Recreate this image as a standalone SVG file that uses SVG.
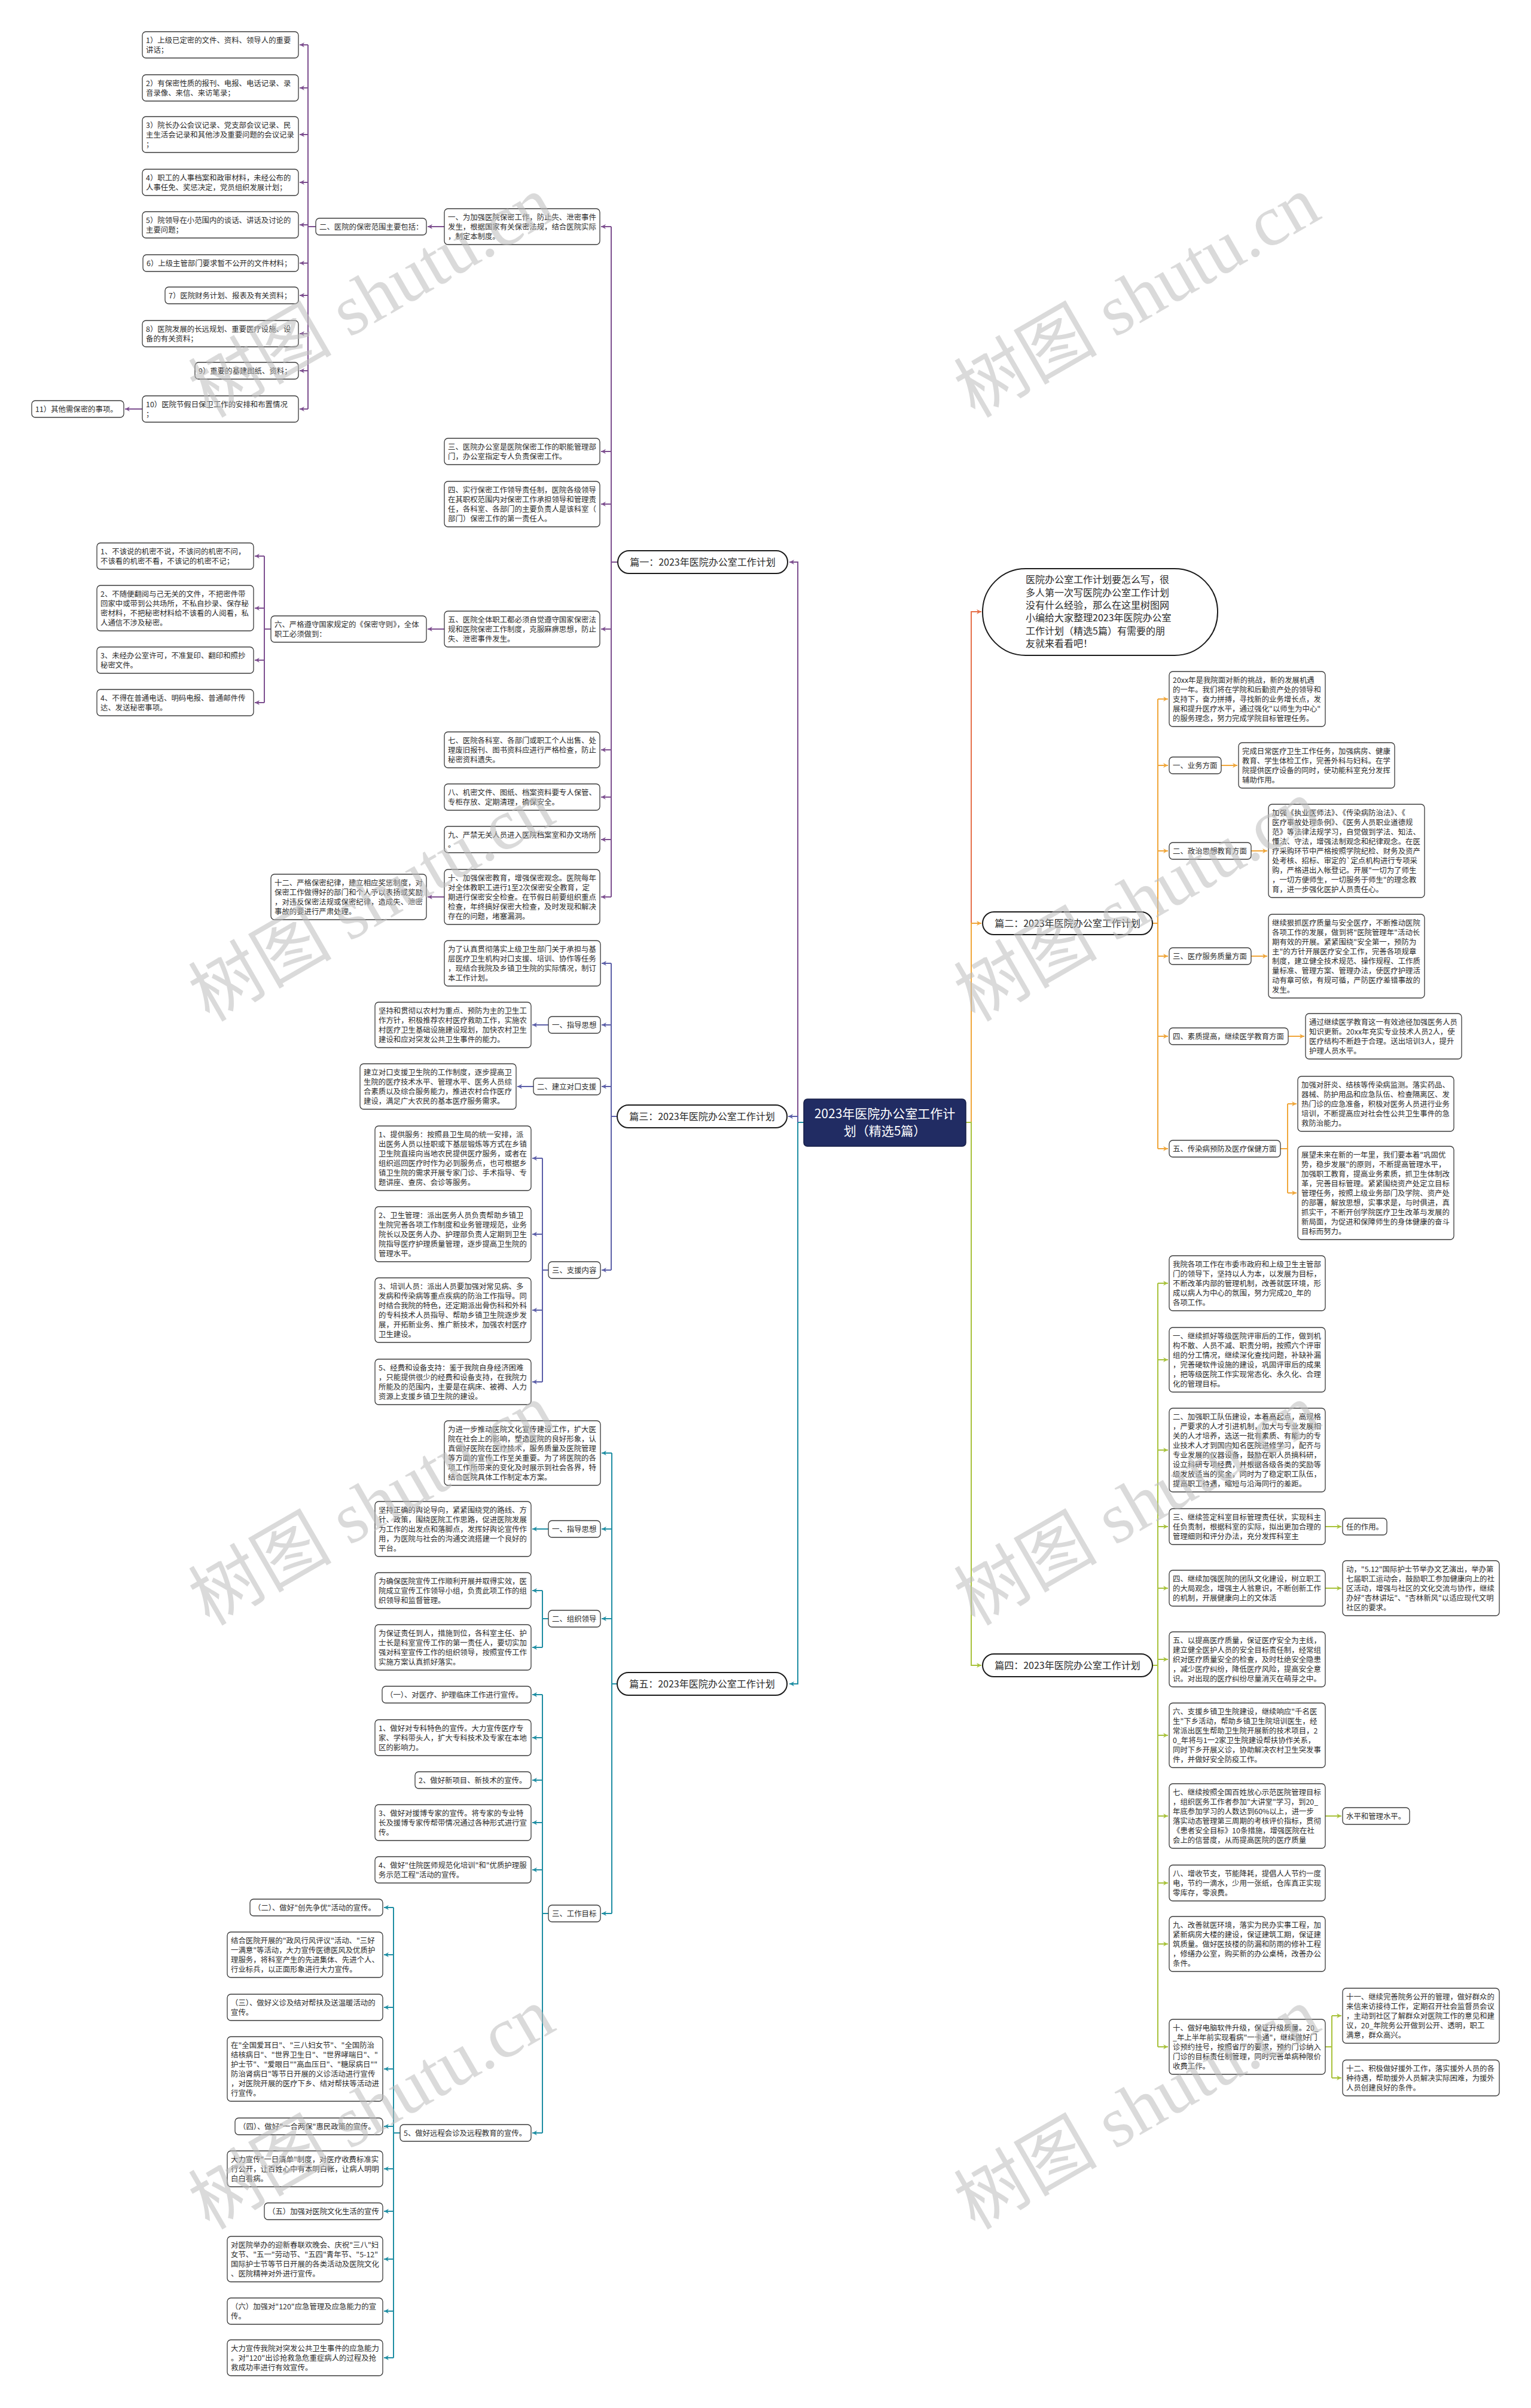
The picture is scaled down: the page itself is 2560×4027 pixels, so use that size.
<svg xmlns="http://www.w3.org/2000/svg" width="2560" height="4027" viewBox="0 0 2560 4027">
<style>
.n rect{fill:#fff;stroke:#3a3a3a;stroke-width:1.3}
.n text,.p text,.b text{font-family:"Noto Sans CJK SC","Noto Sans",sans-serif;fill:#2b2b2b}
.n text{font-size:12.4px}
.p rect,.b rect{fill:#fff;stroke:#1a1a1a;stroke-width:2}
.p text{font-size:16px;text-anchor:middle}
.b text{font-size:16px}
.c path{fill:none;stroke-width:2}
.pu{stroke:#7d4f8f}.or{stroke:#f0a63a}.in{stroke:#5c5fa8}.gr{stroke:#a8c23c}.te{stroke:#1f8ea3}.re{stroke:#e6704a}
.wm{font-family:"Liberation Serif","Noto Sans CJK SC",serif;font-size:120px;fill:#bdbdbd;opacity:.55}
</style>
<defs>
<marker id="aPu" viewBox="0 0 10 10" refX="10" refY="5" markerWidth="8" markerHeight="8" markerUnits="userSpaceOnUse" orient="auto"><path d="M0,0L10,5L0,10L3,5z" fill="#7d4f8f"/></marker>
<marker id="aOr" viewBox="0 0 10 10" refX="10" refY="5" markerWidth="8" markerHeight="8" markerUnits="userSpaceOnUse" orient="auto"><path d="M0,0L10,5L0,10L3,5z" fill="#f0a63a"/></marker>
<marker id="aIn" viewBox="0 0 10 10" refX="10" refY="5" markerWidth="8" markerHeight="8" markerUnits="userSpaceOnUse" orient="auto"><path d="M0,0L10,5L0,10L3,5z" fill="#5c5fa8"/></marker>
<marker id="aGr" viewBox="0 0 10 10" refX="10" refY="5" markerWidth="8" markerHeight="8" markerUnits="userSpaceOnUse" orient="auto"><path d="M0,0L10,5L0,10L3,5z" fill="#a8c23c"/></marker>
<marker id="aTe" viewBox="0 0 10 10" refX="10" refY="5" markerWidth="8" markerHeight="8" markerUnits="userSpaceOnUse" orient="auto"><path d="M0,0L10,5L0,10L3,5z" fill="#1f8ea3"/></marker>
<marker id="aRe" viewBox="0 0 10 10" refX="10" refY="5" markerWidth="8" markerHeight="8" markerUnits="userSpaceOnUse" orient="auto"><path d="M0,0L10,5L0,10L3,5z" fill="#e6704a"/></marker>
</defs>
<rect width="2560" height="4027" fill="#fff"/>

<g id="connectors" class="c">
<!-- center left -->
<path class="te" d="M1344,1877H1334V2816H1320" marker-end="url(#aTe)"/>
<path class="pu" d="M1334,1877V940H1320" marker-end="url(#aPu)"/>
<path class="in" d="M1334,1877V1867H1318" marker-end="url(#aIn)"/>
<!-- center right -->
<path class="re" d="M1615,1877H1624V1023H1641" marker-end="url(#aRe)"/>
<path class="or" d="M1624,1877V1544H1641" marker-end="url(#aOr)"/>
<path class="gr" d="M1615,1877H1624V2785H1641" marker-end="url(#aGr)"/>
<!-- pian 1 -->
<g class="pu" marker-end="url(#aPu)">
<path d="M1033,940H1022M1022,379V1500" marker-end="none"/>
<path d="M1022,379H1005"/><path d="M1022,755H1005"/><path d="M1022,843H1005"/><path d="M1022,1052H1005"/><path d="M1022,1254H1005"/><path d="M1022,1333H1005"/><path d="M1022,1404H1005"/><path d="M1022,1500H1005"/>
<path d="M743,379H715"/>
<path d="M528,379H515M515,75V684" marker-end="none"/>
<path d="M515,75H501"/><path d="M515,147H501"/><path d="M515,225H501"/><path d="M515,305H501"/><path d="M515,376H501"/><path d="M515,440H501"/><path d="M515,494H501"/><path d="M515,558H501"/><path d="M515,620H501"/><path d="M515,684H501"/>
<path d="M238,684H209"/>
<path d="M743,1052H715"/>
<path d="M453,1052H442M442,930V1175" marker-end="none"/>
<path d="M442,930H426"/><path d="M442,1017H426"/><path d="M442,1104H426"/><path d="M442,1175H426"/>
<path d="M743,1500H715"/>
</g>
<!-- pian 2 -->
<g class="or" marker-end="url(#aOr)">
<path d="M1927,1544H1936M1936,1169V1921" marker-end="none"/>
<path d="M1936,1169H1953"/><path d="M1936,1280H1953"/><path d="M1936,1423H1953"/><path d="M1936,1599H1953"/><path d="M1936,1733H1953"/><path d="M1936,1921H1953"/>
<path d="M2042,1280H2069"/><path d="M2092,1423H2119"/><path d="M2092,1599H2119"/><path d="M2154,1733H2181"/>
<path d="M2141,1921H2153M2153,1846V1995" marker-end="none"/>
<path d="M2153,1846H2168"/><path d="M2153,1995H2168"/>
</g>
<!-- pian 3 -->
<g class="in" marker-end="url(#aIn)">
<path d="M1032,1867H1022M1022,1611V2124" marker-end="none"/>
<path d="M1022,1611H1006"/><path d="M1022,1714H1006"/><path d="M1022,1817H1006"/><path d="M1022,2124H1006"/>
<path d="M917,1714H890"/><path d="M892,1817H865"/>
<path d="M917,2124H907M907,1937V2311" marker-end="none"/>
<path d="M907,1937H890"/><path d="M907,2064H890"/><path d="M907,2191H890"/><path d="M907,2311H890"/>
</g>
<!-- pian 4 -->
<g class="gr" marker-end="url(#aGr)">
<path d="M1927,2785H1936M1936,2146V3423" marker-end="none"/>
<path d="M1936,2146H1953"/><path d="M1936,2274H1953"/><path d="M1936,2425H1953"/><path d="M1936,2553H1953"/><path d="M1936,2656H1953"/><path d="M1936,2775H1953"/><path d="M1936,2902H1953"/><path d="M1936,3037H1953"/><path d="M1936,3149H1953"/><path d="M1936,3251H1953"/><path d="M1936,3423H1953"/>
<path d="M2216,2553H2243"/><path d="M2216,2656H2243"/><path d="M2216,3037H2243"/>
<path d="M2216,3423H2227M2227,3371V3475" marker-end="none"/>
<path d="M2227,3371H2243"/><path d="M2227,3475H2243"/>
</g>
<!-- pian 5 -->
<g class="te" marker-end="url(#aTe)">
<path d="M1032,2816H1023M1023,2430V3200" marker-end="none"/>
<path d="M1023,2430H1006"/><path d="M1023,2557H1006"/><path d="M1023,2707H1006"/><path d="M1023,3200H1006"/>
<path d="M917,2557H890"/>
<path d="M917,2707H907M907,2660V2755" marker-end="none"/>
<path d="M907,2660H890"/><path d="M907,2755H890"/>
<path d="M917,3200H907M907,2834V3567" marker-end="none"/>
<path d="M907,2834H890"/><path d="M907,2906H890"/><path d="M907,2977H890"/><path d="M907,3048H890"/><path d="M907,3127H890"/><path d="M907,3567H890"/>
<path d="M669,3567H658M658,3190V3943" marker-end="none"/>
<path d="M658,3190H642"/><path d="M658,3269H642"/><path d="M658,3357H642"/><path d="M658,3460H642"/><path d="M658,3556H642"/><path d="M658,3627H642"/><path d="M658,3698H642"/><path d="M658,3778H642"/><path d="M658,3865H642"/><path d="M658,3943H642"/>
</g>
</g>

<!-- center -->
<g id="root"><rect x="1344" y="1838" width="271" height="79" rx="6" fill="#212c63" stroke="#151d45" stroke-width="1.5"/>
<text font-family="Noto Sans CJK SC,sans-serif" font-size="21px" fill="#fff" text-anchor="middle"><tspan x="1479.5" y="1870">2023年医院办公室工作计</tspan><tspan x="1479.5" y="1899">划（精选5篇）</tspan></text></g>

<g id="intro" class="b"><rect x="1643" y="951" width="393" height="145" rx="72"/>
<text><tspan x="1715" y="975">医院办公室工作计划要怎么写，很</tspan><tspan x="1715" y="996.5">多人第一次写医院办公室工作计划</tspan><tspan x="1715" y="1018">没有什么经验，那么在这里树图网</tspan><tspan x="1715" y="1039">小编给大家整理2023年医院办公室</tspan><tspan x="1715" y="1060.5">工作计划（精选5篇）有需要的朋</tspan><tspan x="1715" y="1082">友就来看看吧！</tspan></text></g>

<g id="p1" class="p"><rect x="1033" y="921" width="284" height="38" rx="19"/><text x="1175" y="946">篇一：2023年医院办公室工作计划</text></g>
<g id="p2" class="p"><rect x="1643" y="1525" width="284" height="38" rx="19"/><text x="1785" y="1550">篇二：2023年医院办公室工作计划</text></g>
<g id="p3" class="p"><rect x="1032" y="1848" width="284" height="38" rx="19"/><text x="1174" y="1873">篇三：2023年医院办公室工作计划</text></g>
<g id="p4" class="p"><rect x="1643" y="2766" width="284" height="38" rx="19"/><text x="1785" y="2791">篇四：2023年医院办公室工作计划</text></g>
<g id="p5" class="p"><rect x="1032" y="2797" width="284" height="38" rx="19"/><text x="1174" y="2822">篇五：2023年医院办公室工作计划</text></g>

<!-- Pian 1 nodes -->
<g id="n1-1" class="n"><rect x="743" y="349" width="260" height="60" rx="6"/><text><tspan x="749" y="367.5">一、为加强医院保密工作，防止失、泄密事件</tspan><tspan x="749" y="383.5">发生，根据国家有关保密法规，结合医院实际</tspan><tspan x="749" y="399.5">，制定本制度。</tspan></text></g>
<g id="n1-2" class="n"><rect x="528" y="365" width="185" height="28" rx="6"/><text><tspan x="534" y="383.5">二、医院的保密范围主要包括：</tspan></text></g>
<g id="n1-2-1" class="n"><rect x="238" y="53" width="261" height="44" rx="6"/><text><tspan x="244" y="71.5">1）上级已定密的文件、资料、领导人的重要</tspan><tspan x="244" y="87.5">讲话；</tspan></text></g>
<g id="n1-2-2" class="n"><rect x="238" y="125" width="261" height="44" rx="6"/><text><tspan x="244" y="143.5">2）有保密性质的报刊、电报、电话记录、录</tspan><tspan x="244" y="159.5">音录像、来信、来访笔录；</tspan></text></g>
<g id="n1-2-3" class="n"><rect x="238" y="195" width="261" height="60" rx="6"/><text><tspan x="244" y="213.5">3）院长办公会议记录、党支部会议记录、民</tspan><tspan x="244" y="229.5">主生活会记录和其他涉及重要问题的会议记录</tspan><tspan x="244" y="245.5">；</tspan></text></g>
<g id="n1-2-4" class="n"><rect x="238" y="283" width="261" height="44" rx="6"/><text><tspan x="244" y="301.5">4）职工的人事档案和政审材料，未经公布的</tspan><tspan x="244" y="317.5">人事任免、奖惩决定，党员组织发展计划；</tspan></text></g>
<g id="n1-2-5" class="n"><rect x="238" y="354" width="261" height="44" rx="6"/><text><tspan x="244" y="372.5">5）院领导在小范围内的谈话、讲话及讨论的</tspan><tspan x="244" y="388.5">主要问题；</tspan></text></g>
<g id="n1-2-6" class="n"><rect x="239" y="426" width="260" height="28" rx="6"/><text><tspan x="245" y="444.5">6）上级主管部门要求暂不公开的文件材料；</tspan></text></g>
<g id="n1-2-7" class="n"><rect x="276" y="480" width="223" height="28" rx="6"/><text><tspan x="282" y="498.5">7）医院财务计划、报表及有关资料；</tspan></text></g>
<g id="n1-2-8" class="n"><rect x="238" y="536" width="261" height="44" rx="6"/><text><tspan x="244" y="554.5">8）医院发展的长远规划、重要医疗设施、设</tspan><tspan x="244" y="570.5">备的有关资料；</tspan></text></g>
<g id="n1-2-9" class="n"><rect x="326" y="606" width="173" height="28" rx="6"/><text><tspan x="332" y="624.5">9）重要的基建图纸、资料；</tspan></text></g>
<g id="n1-2-10" class="n"><rect x="238" y="662" width="261" height="44" rx="6"/><text><tspan x="244" y="680.5">10）医院节假日保卫工作的安排和布置情况</tspan><tspan x="244" y="696.5">；</tspan></text></g>
<g id="n1-2-11" class="n"><rect x="53" y="670" width="154" height="28" rx="6"/><text><tspan x="59" y="688.5">11）其他需保密的事项。</tspan></text></g>
<g id="n1-3" class="n"><rect x="743" y="733" width="260" height="44" rx="6"/><text><tspan x="749" y="751.5">三、医院办公室是医院保密工作的职能管理部</tspan><tspan x="749" y="767.5">门，办公室指定专人负责保密工作。</tspan></text></g>
<g id="n1-4" class="n"><rect x="743" y="805" width="260" height="76" rx="6"/><text><tspan x="749" y="823.5">四、实行保密工作领导责任制，医院各级领导</tspan><tspan x="749" y="839.5">在其职权范围内对保密工作承担领导和管理责</tspan><tspan x="749" y="855.5">任，各科室、各部门的主要负责人是该科室（</tspan><tspan x="749" y="871.5">部门）保密工作的第一责任人。</tspan></text></g>
<g id="n1-5" class="n"><rect x="743" y="1022" width="260" height="60" rx="6"/><text><tspan x="749" y="1040.5">五、医院全体职工都必须自觉遵守国家保密法</tspan><tspan x="749" y="1056.5">规和医院保密工作制度，克服麻痹思想，防止</tspan><tspan x="749" y="1072.5">失、泄密事件发生。</tspan></text></g>
<g id="n1-6" class="n"><rect x="453" y="1030" width="260" height="44" rx="6"/><text><tspan x="459" y="1048.5">六、严格遵守国家规定的《保密守则》，全体</tspan><tspan x="459" y="1064.5">职工必须做到：</tspan></text></g>
<g id="n1-6-1" class="n"><rect x="162" y="908" width="262" height="44" rx="6"/><text><tspan x="168" y="926.5">1、不该说的机密不说，不该问的机密不问，</tspan><tspan x="168" y="942.5">不该看的机密不看，不该记的机密不记；</tspan></text></g>
<g id="n1-6-2" class="n"><rect x="162" y="979" width="262" height="76" rx="6"/><text><tspan x="168" y="997.5">2、不随便翻阅与己无关的文件，不把密件带</tspan><tspan x="168" y="1013.5">回家中或带到公共场所，不私自抄录、保存秘</tspan><tspan x="168" y="1029.5">密材料，不把秘密材料给不该看的人阅看，私</tspan><tspan x="168" y="1045.5">人通信不涉及秘密。</tspan></text></g>
<g id="n1-6-3" class="n"><rect x="162" y="1082" width="262" height="44" rx="6"/><text><tspan x="168" y="1100.5">3、未经办公室许可，不准复印、翻印和照抄</tspan><tspan x="168" y="1116.5">秘密文件。</tspan></text></g>
<g id="n1-6-4" class="n"><rect x="162" y="1153" width="262" height="44" rx="6"/><text><tspan x="168" y="1171.5">4、不得在普通电话、明码电报、普通邮件传</tspan><tspan x="168" y="1187.5">达、发送秘密事项。</tspan></text></g>
<g id="n1-7" class="n"><rect x="743" y="1224" width="260" height="60" rx="6"/><text><tspan x="749" y="1242.5">七、医院各科室、各部门或职工个人出售、处</tspan><tspan x="749" y="1258.5">理废旧报刊、图书资料应进行严格检查，防止</tspan><tspan x="749" y="1274.5">秘密资料遗失。</tspan></text></g>
<g id="n1-8" class="n"><rect x="743" y="1311" width="260" height="44" rx="6"/><text><tspan x="749" y="1329.5">八、机密文件、图纸、档案资料要专人保管、</tspan><tspan x="749" y="1345.5">专柜存放、定期清理，确保安全。</tspan></text></g>
<g id="n1-9" class="n"><rect x="743" y="1382" width="260" height="44" rx="6"/><text><tspan x="749" y="1400.5">九、严禁无关人员进入医院档案室和办文场所</tspan><tspan x="749" y="1416.5">。</tspan></text></g>
<g id="n1-10" class="n"><rect x="743" y="1454" width="260" height="92" rx="6"/><text><tspan x="749" y="1472.5">十、加强保密教育，增强保密观念。医院每年</tspan><tspan x="749" y="1488.5">对全体教职工进行1至2次保密安全教育，定</tspan><tspan x="749" y="1504.5">期进行保密安全检查。在节假日前要组织重点</tspan><tspan x="749" y="1520.5">检查，年终搞好保密大检查，及时发现和解决</tspan><tspan x="749" y="1536.5">存在的问题，堵塞漏洞。</tspan></text></g>
<g id="n1-12" class="n"><rect x="453" y="1462" width="260" height="76" rx="6"/><text><tspan x="459" y="1480.5">十二、严格保密纪律，建立相应奖惩制度，对</tspan><tspan x="459" y="1496.5">保密工作做得好的部门和个人予以表扬或奖励</tspan><tspan x="459" y="1512.5">，对违反保密法规或保密纪律，造成失、泄密</tspan><tspan x="459" y="1528.5">事故的要进行严肃处理。</tspan></text></g>

<!-- Pian 2 nodes -->
<g id="n2-0" class="n"><rect x="1955" y="1123" width="261" height="92" rx="6"/><text><tspan x="1961" y="1141.5">20xx年是我院面对新的挑战，新的发展机遇</tspan><tspan x="1961" y="1157.5">的一年。我们将在学院和后勤资产处的领导和</tspan><tspan x="1961" y="1173.5">支持下，奋力拼搏，寻找新的业务增长点，发</tspan><tspan x="1961" y="1189.5">展和提升医疗水平，通过强化"以师生为中心"</tspan><tspan x="1961" y="1205.5">的服务理念，努力完成学院目标管理任务。</tspan></text></g>
<g id="n2-1" class="n"><rect x="1955" y="1266" width="87" height="28" rx="6"/><text><tspan x="1961" y="1284.5">一、业务方面</tspan></text></g>
<g id="n2-1-1" class="n"><rect x="2071" y="1242" width="261" height="76" rx="6"/><text><tspan x="2077" y="1260.5">完成日常医疗卫生工作任务，加强病房、健康</tspan><tspan x="2077" y="1276.5">教育、学生体检工作，完善外科与妇科。在学</tspan><tspan x="2077" y="1292.5">院提供医疗设备的同时，使功能科室充分发挥</tspan><tspan x="2077" y="1308.5">辅助作用。</tspan></text></g>
<g id="n2-2" class="n"><rect x="1955" y="1409" width="137" height="28" rx="6"/><text><tspan x="1961" y="1427.5">二、政治思想教育方面</tspan></text></g>
<g id="n2-2-1" class="n"><rect x="2121" y="1345" width="261" height="156" rx="6"/><text><tspan x="2127" y="1363.5">加强《执业医师法》、《传染病防治法》、《</tspan><tspan x="2127" y="1379.5">医疗事故处理条例》、《医务人员职业道德规</tspan><tspan x="2127" y="1395.5">范》等法律法规学习，自觉做到学法、知法、</tspan><tspan x="2127" y="1411.5">懂法、守法，增强法制观念和纪律观念。在医</tspan><tspan x="2127" y="1427.5">疗采购环节中严格按照学院纪检、财务及资产</tspan><tspan x="2127" y="1443.5">处考核、招标、审定的`定点机构进行专项采</tspan><tspan x="2127" y="1459.5">购，严格进出入帐登记。开展"一切为了师生</tspan><tspan x="2127" y="1475.5">，一切方便师生，一切服务于师生"的理念教</tspan><tspan x="2127" y="1491.5">育，进一步强化医护人员责任心。</tspan></text></g>
<g id="n2-3" class="n"><rect x="1955" y="1585" width="137" height="28" rx="6"/><text><tspan x="1961" y="1603.5">三、医疗服务质量方面</tspan></text></g>
<g id="n2-3-1" class="n"><rect x="2121" y="1529" width="261" height="140" rx="6"/><text><tspan x="2127" y="1547.5">继续狠抓医疗质量与安全医疗，不断推动医院</tspan><tspan x="2127" y="1563.5">各项工作的发展，做到将"医院管理年"活动长</tspan><tspan x="2127" y="1579.5">期有效的开展。紧紧围绕"安全第一，预防为</tspan><tspan x="2127" y="1595.5">主"的方针开展医疗安全工作，完善各项规章</tspan><tspan x="2127" y="1611.5">制度，建立健全技术规范、操作规程、工作质</tspan><tspan x="2127" y="1627.5">量标准、管理方案、管理办法，使医疗护理活</tspan><tspan x="2127" y="1643.5">动有章可依，有规可循，严防医疗差错事故的</tspan><tspan x="2127" y="1659.5">发生。</tspan></text></g>
<g id="n2-4" class="n"><rect x="1955" y="1719" width="199" height="28" rx="6"/><text><tspan x="1961" y="1737.5">四、素质提高，继续医学教育方面</tspan></text></g>
<g id="n2-4-1" class="n"><rect x="2183" y="1695" width="261" height="76" rx="6"/><text><tspan x="2189" y="1713.5">通过继续医学教育这一有效途径加强医务人员</tspan><tspan x="2189" y="1729.5">知识更新。20xx年充实专业技术人员2人，使</tspan><tspan x="2189" y="1745.5">医疗结构不断趋于合理。送出培训3人，提升</tspan><tspan x="2189" y="1761.5">护理人员水平。</tspan></text></g>
<g id="n2-5" class="n"><rect x="1955" y="1907" width="186" height="28" rx="6"/><text><tspan x="1961" y="1925.5">五、传染病预防及医疗保健方面</tspan></text></g>
<g id="n2-5-1" class="n"><rect x="2170" y="1800" width="261" height="92" rx="6"/><text><tspan x="2176" y="1818.5">加强对肝炎、结核等传染病监测。落实药品、</tspan><tspan x="2176" y="1834.5">器械、防护用品和应急队伍、检查隔离区、发</tspan><tspan x="2176" y="1850.5">热门诊的应急准备，积极对医务人员进行业务</tspan><tspan x="2176" y="1866.5">培训，不断提高应对社会性公共卫生事件的急</tspan><tspan x="2176" y="1882.5">救防治能力。</tspan></text></g>
<g id="n2-5-2" class="n"><rect x="2170" y="1917" width="261" height="156" rx="6"/><text><tspan x="2176" y="1935.5">展望未来在新的一年里，我们要本着"巩固优</tspan><tspan x="2176" y="1951.5">势，稳步发展"的原则，不断提高管理水平，</tspan><tspan x="2176" y="1967.5">加强职工教育，提高业务素质，抓卫生体制改</tspan><tspan x="2176" y="1983.5">革，完善目标管理。紧紧围绕资产处定立目标</tspan><tspan x="2176" y="1999.5">管理任务，按照上级业务部门及学院、资产处</tspan><tspan x="2176" y="2015.5">的部署，解放思想，实事求是，与时俱进，真</tspan><tspan x="2176" y="2031.5">抓实干，不断开创学院医疗卫生改革与发展的</tspan><tspan x="2176" y="2047.5">新局面，为促进和保障师生的身体健康的奋斗</tspan><tspan x="2176" y="2063.5">目标而努力。</tspan></text></g>

<!-- Pian 3 nodes -->
<g id="n3-0" class="n"><rect x="743" y="1573" width="261" height="76" rx="6"/><text><tspan x="749" y="1591.5">为了认真贯彻落实上级卫生部门关于承担与基</tspan><tspan x="749" y="1607.5">层医疗卫生机构对口支援、培训、协作等任务</tspan><tspan x="749" y="1623.5">，现结合我院及乡镇卫生院的实际情况，制订</tspan><tspan x="749" y="1639.5">本工作计划。</tspan></text></g>
<g id="n3-1" class="n"><rect x="917" y="1700" width="87" height="28" rx="6"/><text><tspan x="923" y="1718.5">一、指导思想</tspan></text></g>
<g id="n3-1-1" class="n"><rect x="627" y="1676" width="261" height="76" rx="6"/><text><tspan x="633" y="1694.5">坚持和贯彻以农村为重点、预防为主的卫生工</tspan><tspan x="633" y="1710.5">作方针，积极推荐农村医疗救助工作，实施农</tspan><tspan x="633" y="1726.5">村医疗卫生基础设施建设规划，加快农村卫生</tspan><tspan x="633" y="1742.5">建设和应对突发公共卫生事件的能力。</tspan></text></g>
<g id="n3-2" class="n"><rect x="892" y="1803" width="112" height="28" rx="6"/><text><tspan x="898" y="1821.5">二、建立对口支援</tspan></text></g>
<g id="n3-2-1" class="n"><rect x="602" y="1779" width="261" height="76" rx="6"/><text><tspan x="608" y="1797.5">建立对口支援卫生院的工作制度，逐步提高卫</tspan><tspan x="608" y="1813.5">生院的医疗技术水平、管理水平、医务人员综</tspan><tspan x="608" y="1829.5">合素质以及综合服务能力，推进农村合作医疗</tspan><tspan x="608" y="1845.5">建设，满足广大农民的基本医疗服务需求。</tspan></text></g>
<g id="n3-3" class="n"><rect x="917" y="2110" width="87" height="28" rx="6"/><text><tspan x="923" y="2128.5">三、支援内容</tspan></text></g>
<g id="n3-3-1" class="n"><rect x="627" y="1883" width="261" height="108" rx="6"/><text><tspan x="633" y="1901.5">1、提供服务：按照县卫生局的统一安排，派</tspan><tspan x="633" y="1917.5">出医务人员以挂职或下基层锻炼等方式在乡镇</tspan><tspan x="633" y="1933.5">卫生院直接向当地农民提供医疗服务，或者在</tspan><tspan x="633" y="1949.5">组织巡回医疗时作为必到服务点，也可根据乡</tspan><tspan x="633" y="1965.5">镇卫生院的需求开展专家门诊、手术指导、专</tspan><tspan x="633" y="1981.5">题讲座、查房、会诊等服务。</tspan></text></g>
<g id="n3-3-2" class="n"><rect x="627" y="2018" width="261" height="92" rx="6"/><text><tspan x="633" y="2036.5">2、卫生管理：派出医务人员负责帮助乡镇卫</tspan><tspan x="633" y="2052.5">生院完善各项工作制度和业务管理规范，业务</tspan><tspan x="633" y="2068.5">院长以及医务人办、护理部负责人定期到卫生</tspan><tspan x="633" y="2084.5">院指导医疗护理质量管理，逐步提高卫生院的</tspan><tspan x="633" y="2100.5">管理水平。</tspan></text></g>
<g id="n3-3-3" class="n"><rect x="627" y="2137" width="261" height="108" rx="6"/><text><tspan x="633" y="2155.5">3、培训人员：派出人员要加强对常见病、多</tspan><tspan x="633" y="2171.5">发病和传染病等重点疾病的防治工作指导。同</tspan><tspan x="633" y="2187.5">时结合我院的特色，还定期派出骨伤科和外科</tspan><tspan x="633" y="2203.5">的专科技术人员指导、帮助乡镇卫生院逐步发</tspan><tspan x="633" y="2219.5">展，开拓新业务、推广新技术，加强农村医疗</tspan><tspan x="633" y="2235.5">卫生建设。</tspan></text></g>
<g id="n3-3-5" class="n"><rect x="627" y="2273" width="261" height="76" rx="6"/><text><tspan x="633" y="2291.5">5、经费和设备支持：鉴于我院自身经济困难</tspan><tspan x="633" y="2307.5">，只能提供很少的经费和设备支持，在我院力</tspan><tspan x="633" y="2323.5">所能及的范围内，主要是在病床、被褥、人力</tspan><tspan x="633" y="2339.5">资源上支援乡镇卫生院的建设。</tspan></text></g>

<!-- Pian 4 nodes -->
<g id="n4-0" class="n"><rect x="1955" y="2100" width="261" height="92" rx="6"/><text><tspan x="1961" y="2118.5">我院各项工作在市委市政府和上级卫生主管部</tspan><tspan x="1961" y="2134.5">门的领导下，坚持以人为本，以发展为目标，</tspan><tspan x="1961" y="2150.5">不断改革内部的管理机制，改善就医环境，形</tspan><tspan x="1961" y="2166.5">成以病人为中心的氛围，努力完成20_年的</tspan><tspan x="1961" y="2182.5">各项工作。</tspan></text></g>
<g id="n4-1" class="n"><rect x="1955" y="2220" width="261" height="108" rx="6"/><text><tspan x="1961" y="2238.5">一、继续抓好等级医院评审后的工作，做到机</tspan><tspan x="1961" y="2254.5">构不散、人员不减、职责分明，按照六个评审</tspan><tspan x="1961" y="2270.5">组的分工情况，继续深化查找问题，补缺补漏</tspan><tspan x="1961" y="2286.5">，完善硬软件设施的建设，巩固评审后的成果</tspan><tspan x="1961" y="2302.5">，把等级医院工作实现常态化、永久化、合理</tspan><tspan x="1961" y="2318.5">化的管理目标。</tspan></text></g>
<g id="n4-2" class="n"><rect x="1955" y="2355" width="261" height="140" rx="6"/><text><tspan x="1961" y="2373.5">二、加强职工队伍建设，本着高起点，高规格</tspan><tspan x="1961" y="2389.5">，严要求的人才引进机制，加大与专业发展相</tspan><tspan x="1961" y="2405.5">关的人才培养，选送一批有素质、有能力的专</tspan><tspan x="1961" y="2421.5">业技术人才到国内知名医院进修学习，配齐与</tspan><tspan x="1961" y="2437.5">专业发展的仪器设备，鼓励在职人员搞科研，</tspan><tspan x="1961" y="2453.5">设立科研专项经费，并根据各级各类的奖励等</tspan><tspan x="1961" y="2469.5">级发放适当的奖金，同时为了稳定职工队伍，</tspan><tspan x="1961" y="2485.5">提高职工待遇，缩短与沿海同行的差距。</tspan></text></g>
<g id="n4-3" class="n"><rect x="1955" y="2523" width="261" height="60" rx="6"/><text><tspan x="1961" y="2541.5">三、继续签定科室目标管理责任状，实现科主</tspan><tspan x="1961" y="2557.5">任负责制，根据科室的实际，拟出更加合理的</tspan><tspan x="1961" y="2573.5">管理细则和评分办法，充分发挥科室主</tspan></text></g>
<g id="n4-3-1" class="n"><rect x="2245" y="2539" width="74" height="28" rx="6"/><text><tspan x="2251" y="2557.5">任的作用。</tspan></text></g>
<g id="n4-4" class="n"><rect x="1955" y="2626" width="261" height="60" rx="6"/><text><tspan x="1961" y="2644.5">四、继续加强医院的团队文化建设，树立职工</tspan><tspan x="1961" y="2660.5">的大局观念，增强主人翁意识，不断创新工作</tspan><tspan x="1961" y="2676.5">的机制，开展健康向上的文体活</tspan></text></g>
<g id="n4-4-1" class="n"><rect x="2245" y="2610" width="262" height="92" rx="6"/><text><tspan x="2251" y="2628.5">动，"5.12"国际护士节举办文艺演出，举办第</tspan><tspan x="2251" y="2644.5">七届职工运动会，鼓励职工参加健康向上的社</tspan><tspan x="2251" y="2660.5">区活动，增强与社区的文化交流与协作，继续</tspan><tspan x="2251" y="2676.5">办好"杏林讲坛"、"杏林新风"以适应现代文明</tspan><tspan x="2251" y="2692.5">社区的要求。</tspan></text></g>
<g id="n4-5" class="n"><rect x="1955" y="2729" width="261" height="92" rx="6"/><text><tspan x="1961" y="2747.5">五、以提高医疗质量，保证医疗安全为主线，</tspan><tspan x="1961" y="2763.5">建立健全医护人员的安全目标责任制，经常组</tspan><tspan x="1961" y="2779.5">织对医疗质量安全的检查，及时杜绝安全隐患</tspan><tspan x="1961" y="2795.5">，减少医疗纠纷，降低医疗风险，提高安全意</tspan><tspan x="1961" y="2811.5">识。对出现的医疗纠纷尽量消灭在萌芽之中。</tspan></text></g>
<g id="n4-6" class="n"><rect x="1955" y="2848" width="261" height="108" rx="6"/><text><tspan x="1961" y="2866.5">六、支援乡镇卫生院建设，继续响应"千名医</tspan><tspan x="1961" y="2882.5">生"下乡活动，帮助乡镇卫生院培训医生，经</tspan><tspan x="1961" y="2898.5">常派出医生帮助卫生院开展新的技术项目，2</tspan><tspan x="1961" y="2914.5">0_年将与1一2家卫生院建设帮扶协作关系，</tspan><tspan x="1961" y="2930.5">同时下乡开展义诊，协助解决农村卫生突发事</tspan><tspan x="1961" y="2946.5">件，并做好安全防疫工作。</tspan></text></g>
<g id="n4-7" class="n"><rect x="1955" y="2983" width="261" height="108" rx="6"/><text><tspan x="1961" y="3001.5">七、继续按照全国百姓放心示范医院管理目标</tspan><tspan x="1961" y="3017.5">，组织医务工作者参加"大讲堂"学习，到20_</tspan><tspan x="1961" y="3033.5">年底参加学习的人数达到60%以上，进一步</tspan><tspan x="1961" y="3049.5">落实动态管理第三周期的考核评价指标，贯彻</tspan><tspan x="1961" y="3065.5">《患者安全目标》10条措施，增强医院在社</tspan><tspan x="1961" y="3081.5">会上的信誉度，从而提高医院的医疗质量</tspan></text></g>
<g id="n4-7-1" class="n"><rect x="2245" y="3023" width="112" height="28" rx="6"/><text><tspan x="2251" y="3041.5">水平和管理水平。</tspan></text></g>
<g id="n4-8" class="n"><rect x="1955" y="3119" width="261" height="60" rx="6"/><text><tspan x="1961" y="3137.5">八、增收节支，节能降耗，提倡人人节约一度</tspan><tspan x="1961" y="3153.5">电，节约一滴水，少用一张纸，仓库真正实现</tspan><tspan x="1961" y="3169.5">零库存，零浪费。</tspan></text></g>
<g id="n4-9" class="n"><rect x="1955" y="3205" width="261" height="92" rx="6"/><text><tspan x="1961" y="3223.5">九、改善就医环境，落实为民办实事工程，加</tspan><tspan x="1961" y="3239.5">紧新病房大楼的建设，保证建筑工期，保证建</tspan><tspan x="1961" y="3255.5">筑质量。做好医技楼的防漏和防雨的修补工程</tspan><tspan x="1961" y="3271.5">，修缮办公室，购买新的办公桌椅，改善办公</tspan><tspan x="1961" y="3287.5">条件。</tspan></text></g>
<g id="n4-10" class="n"><rect x="1955" y="3377" width="261" height="92" rx="6"/><text><tspan x="1961" y="3395.5">十、做好电脑软件升级，保证升级质量。20_</tspan><tspan x="1961" y="3411.5">_年上半年前实现看病"一卡通"，继续做好门</tspan><tspan x="1961" y="3427.5">诊预约挂号，按照省厅的要求，预约门诊纳入</tspan><tspan x="1961" y="3443.5">门诊的目标责任制管理，同时完善单病种限价</tspan><tspan x="1961" y="3459.5">收费工作。</tspan></text></g>
<g id="n4-11" class="n"><rect x="2245" y="3325" width="262" height="92" rx="6"/><text><tspan x="2251" y="3343.5">十一、继续完善院务公开的管理，做好群众的</tspan><tspan x="2251" y="3359.5">来信来访接待工作，定期召开社会监督员会议</tspan><tspan x="2251" y="3375.5">，主动到社区了解群众对医院工作的意见和建</tspan><tspan x="2251" y="3391.5">议，20_年院务公开做到公开、透明，职工</tspan><tspan x="2251" y="3407.5">满意，群众高兴。</tspan></text></g>
<g id="n4-12" class="n"><rect x="2245" y="3445" width="262" height="60" rx="6"/><text><tspan x="2251" y="3463.5">十二、积极做好援外工作，落实援外人员的各</tspan><tspan x="2251" y="3479.5">种待遇，帮助援外人员解决实际困难，为援外</tspan><tspan x="2251" y="3495.5">人员创建良好的条件。</tspan></text></g>

<!-- Pian 5 nodes -->
<g id="n5-0" class="n"><rect x="743" y="2376" width="261" height="108" rx="6"/><text><tspan x="749" y="2394.5">为进一步推动医院文化宣传建设工作，扩大医</tspan><tspan x="749" y="2410.5">院在社会上的影响，塑造医院的良好形象，认</tspan><tspan x="749" y="2426.5">真做好医院在医疗技术，服务质量及医院管理</tspan><tspan x="749" y="2442.5">等方面的宣传工作至关重要。为了将医院的各</tspan><tspan x="749" y="2458.5">项工作所带来的变化及时展示到社会各界，特</tspan><tspan x="749" y="2474.5">结合医院具体工作制定本方案。</tspan></text></g>
<g id="n5-1" class="n"><rect x="917" y="2543" width="87" height="28" rx="6"/><text><tspan x="923" y="2561.5">一、指导思想</tspan></text></g>
<g id="n5-1-1" class="n"><rect x="627" y="2511" width="261" height="92" rx="6"/><text><tspan x="633" y="2529.5">坚持正确的舆论导向，紧紧围绕党的路线、方</tspan><tspan x="633" y="2545.5">针、政策，围绕医院工作思路，促进医院发展</tspan><tspan x="633" y="2561.5">为工作的出发点和落脚点，发挥好舆论宣传作</tspan><tspan x="633" y="2577.5">用，为医院与社会的沟通交流搭建一个良好的</tspan><tspan x="633" y="2593.5">平台。</tspan></text></g>
<g id="n5-2" class="n"><rect x="917" y="2693" width="87" height="28" rx="6"/><text><tspan x="923" y="2711.5">二、组织领导</tspan></text></g>
<g id="n5-2-1" class="n"><rect x="627" y="2630" width="261" height="60" rx="6"/><text><tspan x="633" y="2648.5">为确保医院宣传工作顺利开展并取得实效，医</tspan><tspan x="633" y="2664.5">院成立宣传工作领导小组，负责此项工作的组</tspan><tspan x="633" y="2680.5">织领导和监督管理。</tspan></text></g>
<g id="n5-2-2" class="n"><rect x="627" y="2717" width="261" height="76" rx="6"/><text><tspan x="633" y="2735.5">为保证责任到人，措施到位，各科室主任、护</tspan><tspan x="633" y="2751.5">士长是科室宣传工作的第一责任人，要切实加</tspan><tspan x="633" y="2767.5">强对科室宣传工作的组织领导，按照宣传工作</tspan><tspan x="633" y="2783.5">实施方案认真抓好落实。</tspan></text></g>
<g id="n5-3" class="n"><rect x="917" y="3186" width="87" height="28" rx="6"/><text><tspan x="923" y="3204.5">三、工作目标</tspan></text></g>
<g id="n5-3-0" class="n"><rect x="639" y="2820" width="249" height="28" rx="6"/><text><tspan x="645" y="2838.5">（一）、对医疗、护理临床工作进行宣传。</tspan></text></g>
<g id="n5-3-1" class="n"><rect x="627" y="2876" width="261" height="60" rx="6"/><text><tspan x="633" y="2894.5">1、做好对专科特色的宣传。大力宣传医疗专</tspan><tspan x="633" y="2910.5">家、学科带头人，扩大专科技术及专家在本地</tspan><tspan x="633" y="2926.5">区的影响力。</tspan></text></g>
<g id="n5-3-2" class="n"><rect x="694" y="2963" width="194" height="28" rx="6"/><text><tspan x="700" y="2981.5">2、做好新项目、新技术的宣传。</tspan></text></g>
<g id="n5-3-3" class="n"><rect x="627" y="3018" width="261" height="60" rx="6"/><text><tspan x="633" y="3036.5">3、做好对援博专家的宣传。将专家的专业特</tspan><tspan x="633" y="3052.5">长及援博专家传帮带情况通过各种形式进行宣</tspan><tspan x="633" y="3068.5">传。</tspan></text></g>
<g id="n5-3-4" class="n"><rect x="627" y="3105" width="261" height="44" rx="6"/><text><tspan x="633" y="3123.5">4、做好"住院医师规范化培训"和"优质护理服</tspan><tspan x="633" y="3139.5">务示范工程"活动的宣传。</tspan></text></g>
<g id="n5-3-5" class="n"><rect x="669" y="3553" width="219" height="28" rx="6"/><text><tspan x="675" y="3571.5">5、做好远程会诊及远程教育的宣传。</tspan></text></g>
<g id="n5-5-1" class="n"><rect x="418" y="3176" width="222" height="28" rx="6"/><text><tspan x="424" y="3194.5">（二）、做好"创先争优"活动的宣传。</tspan></text></g>
<g id="n5-5-2" class="n"><rect x="380" y="3231" width="260" height="76" rx="6"/><text><tspan x="386" y="3249.5">结合医院开展的"政风行风评议"活动、"三好</tspan><tspan x="386" y="3265.5">一满意"等活动，大力宣传医德医风及优质护</tspan><tspan x="386" y="3281.5">理服务，将科室产生的先进集体、先进个人、</tspan><tspan x="386" y="3297.5">行业标兵，以正面形象进行大力宣传。</tspan></text></g>
<g id="n5-5-3" class="n"><rect x="380" y="3335" width="260" height="44" rx="6"/><text><tspan x="386" y="3353.5">（三）、做好义诊及结对帮扶及送温暖活动的</tspan><tspan x="386" y="3369.5">宣传。</tspan></text></g>
<g id="n5-5-4" class="n"><rect x="380" y="3406" width="260" height="108" rx="6"/><text><tspan x="386" y="3424.5">在"全国爱耳日"、"三八妇女节"、"全国防治</tspan><tspan x="386" y="3440.5">结核病日"、"世界卫生日"、"世界哮喘日"、"</tspan><tspan x="386" y="3456.5">护士节"、"爱眼日""高血压日"、"糖尿病日""</tspan><tspan x="386" y="3472.5">防治肾病日"等节日开展的义诊活动进行宣传</tspan><tspan x="386" y="3488.5">，对医院开展的医疗下乡、结对帮扶等活动进</tspan><tspan x="386" y="3504.5">行宣传。</tspan></text></g>
<g id="n5-5-5" class="n"><rect x="393" y="3542" width="247" height="28" rx="6"/><text><tspan x="399" y="3560.5">（四）、做好"一合两保"惠民政策的宣传。</tspan></text></g>
<g id="n5-5-6" class="n"><rect x="380" y="3597" width="260" height="60" rx="6"/><text><tspan x="386" y="3615.5">大力宣传"一日清单"制度，对医疗收费标准实</tspan><tspan x="386" y="3631.5">行公开，让百姓心中有本明白帐，让病人明明</tspan><tspan x="386" y="3647.5">白白看病。</tspan></text></g>
<g id="n5-5-7" class="n"><rect x="442" y="3684" width="198" height="28" rx="6"/><text><tspan x="448" y="3702.5">（五）加强对医院文化生活的宣传</tspan></text></g>
<g id="n5-5-8" class="n"><rect x="380" y="3740" width="260" height="76" rx="6"/><text><tspan x="386" y="3758.5">对医院举办的迎新春联欢晚会、庆祝"三八"妇</tspan><tspan x="386" y="3774.5">女节、"五一"劳动节、"五四"青年节、"5-12"</tspan><tspan x="386" y="3790.5">国际护士节等节日开展的各类活动及医院文化</tspan><tspan x="386" y="3806.5">、医院精神对外进行宣传。</tspan></text></g>
<g id="n5-5-9" class="n"><rect x="380" y="3843" width="260" height="44" rx="6"/><text><tspan x="386" y="3861.5">（六）加强对"120"应急管理及应急能力的宣</tspan><tspan x="386" y="3877.5">传。</tspan></text></g>
<g id="n5-5-10" class="n"><rect x="380" y="3913" width="260" height="60" rx="6"/><text><tspan x="386" y="3931.5">大力宣传我院对突发公共卫生事件的应急能力</tspan><tspan x="386" y="3947.5">。对"120"出诊抢救急危重症病人的过程及抢</tspan><tspan x="386" y="3963.5">救成功率进行有效宣传。</tspan></text></g>

<g id="watermarks">
<text class="wm" x="350" y="700" transform="rotate(-30 350 700)">树图 shutu.cn</text>
<text class="wm" x="1630" y="700" transform="rotate(-30 1630 700)">树图 shutu.cn</text>
<text class="wm" x="350" y="1710" transform="rotate(-30 350 1710)">树图 shutu.cn</text>
<text class="wm" x="1630" y="1710" transform="rotate(-30 1630 1710)">树图 shutu.cn</text>
<text class="wm" x="350" y="2720" transform="rotate(-30 350 2720)">树图 shutu.cn</text>
<text class="wm" x="1630" y="2720" transform="rotate(-30 1630 2720)">树图 shutu.cn</text>
<text class="wm" x="350" y="3730" transform="rotate(-30 350 3730)">树图 shutu.cn</text>
<text class="wm" x="1630" y="3730" transform="rotate(-30 1630 3730)">树图 shutu.cn</text>
</g>
</svg>
